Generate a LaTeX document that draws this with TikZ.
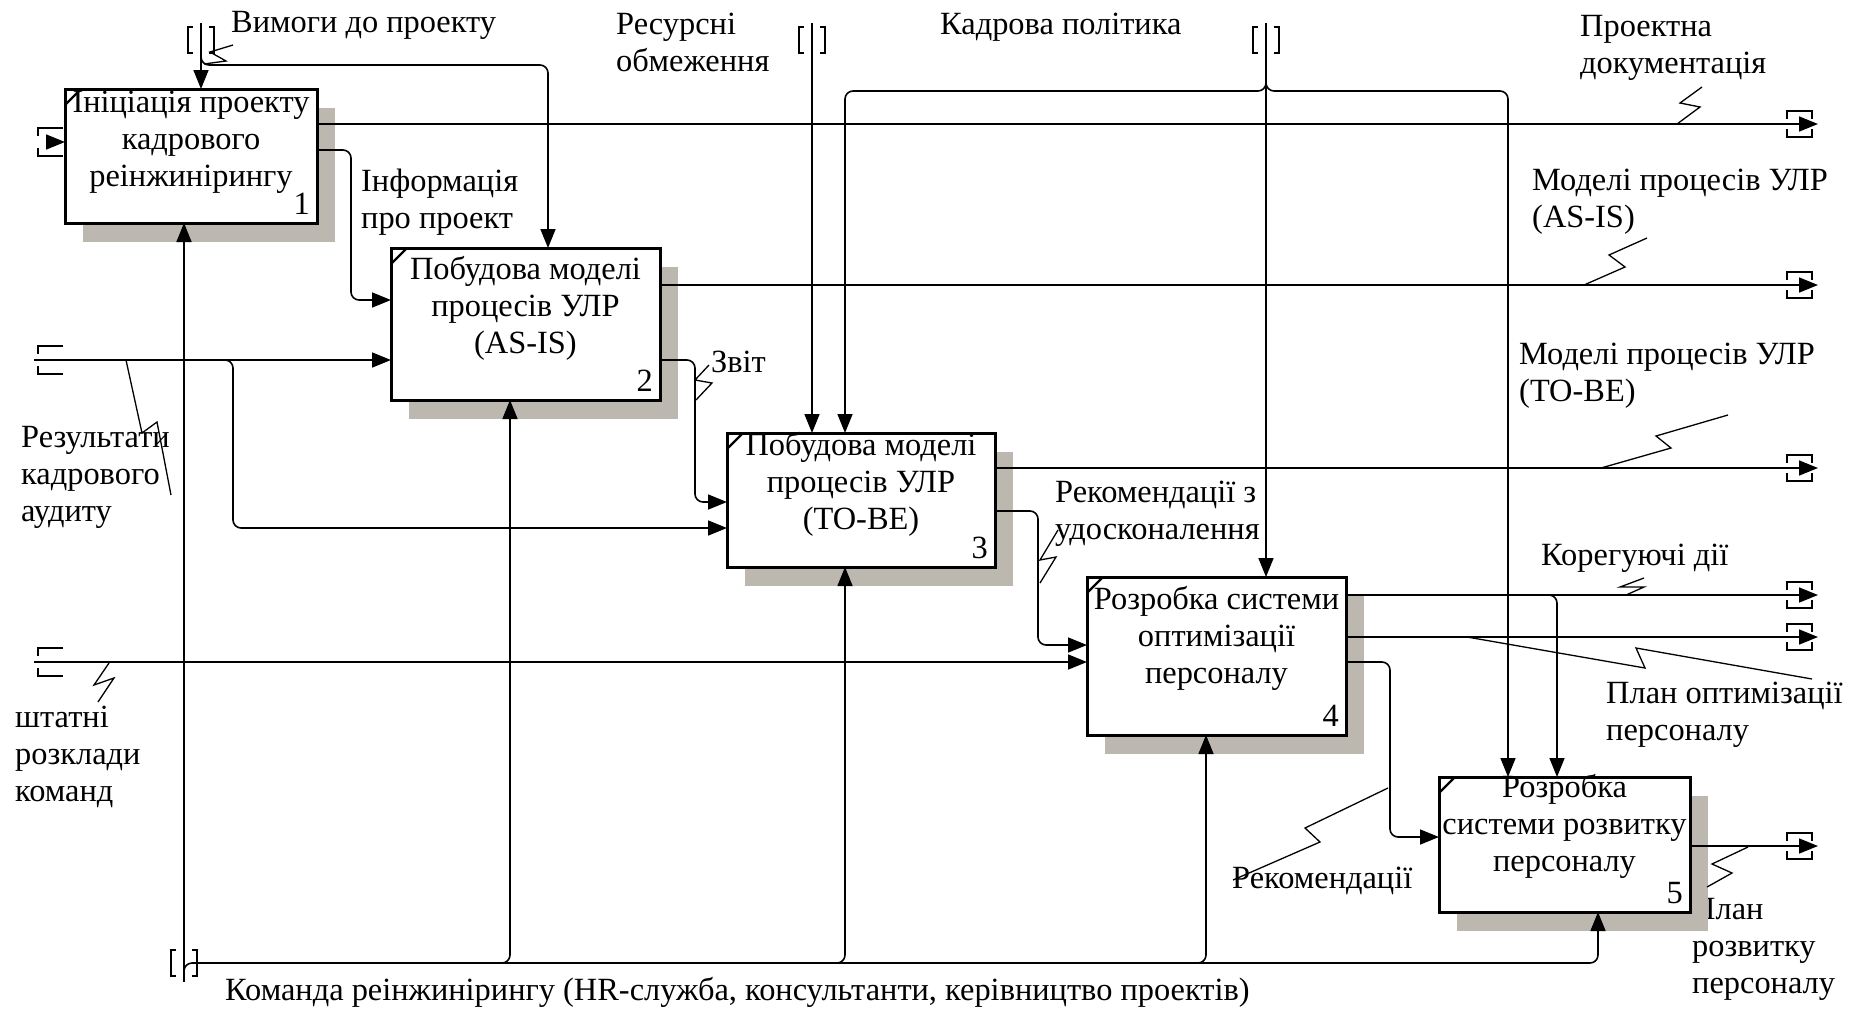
\documentclass[tikz,border=0pt]{standalone}
\usepackage{fontspec}
\setmainfont{Liberation Serif}
\usetikzlibrary{arrows.meta}
\definecolor{shadowgray}{RGB}{188,184,176}
\begin{document}
\begin{tikzpicture}[x=1pt,y=-1pt,
  font=\fontsize{32.4}{37}\selectfont,
  wire/.style={line width=1.6pt},
  flow/.style={wire,-{Triangle[length=19pt,width=15pt]}},
  rnd/.style={rounded corners=8pt},
  lead/.style={line width=1.3pt},
  proc/.style={draw,line width=3pt,fill=white,anchor=north west,inner sep=0pt},
  boxtext/.style={align=center,inner sep=0pt},
  num/.style={anchor=base east,inner sep=0pt},
  lbl/.style={align=left,inner sep=0pt,anchor=west},
  outbrk/.pic={\draw[wire] (-31,-5) -- (-31,-13) -- (-6,-13) -- (-6,-5)
                           (-31,5) -- (-31,13) -- (-6,13) -- (-6,5);},
  inbrk/.pic={\draw[wire] (25,-14) -- (0,-14) -- (0,-6) (0,6) -- (0,14) -- (25,14);},
  tunbrk/.pic={\draw[wire] (-8,-13) -- (-13,-13) -- (-13,13) -- (-8,13)
                           (8,-13) -- (13,-13) -- (13,13) -- (8,13);}
]
\useasboundingbox (0,0) rectangle (1858,1010);

% ---------- arrow labels ----------
\node[lbl] (lReq)   at (231,25)  {Вимоги до проекту};
\node[lbl] (lRes)   at (616,42)  {Ресурсні\\обмеження};
\node[lbl] (lPol)   at (940,27)  {Кадрова політика};
\node[lbl] (lDoc)   at (1580,48) {Проектна\\документація};
\node[lbl] (lInfo)  at (361,202) {Інформація\\про проект};
\node[lbl] (lAsis)  at (1532,202) {Моделі процесів УЛР\\(AS-IS)};
\node[lbl] (lRep)   at (711,362) {Звіт};
\node[lbl] (lTobe)  at (1519,376) {Моделі процесів УЛР\\(TO-BE)};
\node[lbl] (lAud)   at (21,477)  {Результати\\кадрового\\аудиту};
\node[lbl] (lImp)   at (1055,514) {Рекомендації з\\удосконалення};
\node[lbl] (lCor)   at (1541,558) {Корегуючі дії};
\node[lbl] (lOpt)   at (1606,715) {План оптимізації\\персоналу};
\node[lbl] (lStaff) at (15,757)  {штатні\\розклади\\команд};
\node[lbl] (lRec)   at (1232,881) {Рекомендації};
\node[lbl] (lDev)   at (1692,949) {План\\розвитку\\персоналу};
\node[lbl] (lTeam)  at (225,992) {Команда реінжинірингу (HR-служба, консультанти, керівництво проектів)};

% ---------- activity boxes (geometry) ----------
\path (65,89)    node[proc,minimum width=249pt,minimum height=131pt] (b1) {};
\path (391,248)  node[proc,minimum width=266pt,minimum height=149pt] (b2) {};
\path (727,433)  node[proc,minimum width=265pt,minimum height=131pt] (b3) {};
\path (1087,577) node[proc,minimum width=256pt,minimum height=155pt] (b4) {};
\path (1439,777) node[proc,minimum width=248pt,minimum height=132pt] (b5) {};

% drop shadows
\foreach \b in {b1,b2,b3,b4,b5}
  \fill[shadowgray] ([shift={(18,19)}]\b.north west) rectangle ([shift={(18,19)}]\b.south east);

% ---------- port coordinates ----------
\coordinate (in1)  at (47,142);
\coordinate (in2)  at (34,360);
\coordinate (in4)  at (34,662);
\coordinate (c1)   at (201,23);
\coordinate (c3)   at (812,23);
\coordinate (cpol) at (1266,23);
\coordinate (m0)   at (184,982);
\coordinate (o1)   at (1818,124);
\coordinate (o2)   at (1818,285);
\coordinate (o3)   at (1818,468);
\coordinate (o4a)  at (1818,595);
\coordinate (o4b)  at (1818,637);
\coordinate (o5)   at (1818,846);

% ---------- connectors ----------
% inputs from the border
\draw[flow] (in1) -- (in1 -| b1.west);
\draw[flow] (in2) -- (in2 -| b2.west);
\draw[flow,rnd] (222,360) -- (233,360) -- (233,528) -- (b3.west |- 0,528);
\draw[flow] (in4) -- (in4 -| b4.west);

% controls from the border
\draw[flow] (c1) -- (c1 |- b1.north);
\draw[flow,rnd] (201,55) -- (201,65) -- (548,65) -- (548,0 |- b2.north);
\draw[flow] (c3) -- (c3 |- b3.north);
\draw[flow] (cpol) -- (cpol |- b4.north);
\draw[flow,rnd] (1266,80) -- (1266,91) -- (845,91) -- (845,0 |- b3.north);
\draw[flow,rnd] (1266,80) -- (1266,91) -- (1508,91) -- (1508,0 |- b5.north);

% outputs to the border
\draw[flow] (b1.east |- o1) -- (o1);
\draw[flow] (b2.east |- o2) -- (o2);
\draw[flow] (b3.east |- o3) -- (o3);
\draw[flow] (b4.east |- o4a) -- (o4a);
\draw[flow] (b4.east |- o4b) -- (o4b);
\draw[flow] (b5.east |- o5) -- (o5);

% box-to-box links
\draw[flow,rnd] (b1.east |- 0,150) -- (351,150) -- (351,300) -- (b2.west |- 0,300);
\draw[flow,rnd] (b2.east |- 0,360) -- (695,360) -- (695,502) -- (b3.west |- 0,502);
\draw[flow,rnd] (b3.east |- 0,511) -- (1038,511) -- (1038,645) -- (b4.west |- 0,645);
\draw[flow,rnd] (b4.east |- 0,662) -- (1390,662) -- (1390,837) -- (b5.west |- 0,837);
\draw[flow,rnd] (1540,595) -- (1557,595) -- (1557,0 |- b5.north);

% mechanisms
\draw[flow] (m0) -- (m0 |- b1.south);
\draw[flow,rnd] (184,975) -- (184,963) -- (1598,963) -- (1598,0 |- b5.south);
\draw[flow,rnd] (495,963) -- (510,963) -- (510,0 |- b2.south);
\draw[flow,rnd] (830,963) -- (845,963) -- (845,0 |- b3.south);
\draw[flow,rnd] (1191,963) -- (1206,963) -- (1206,0 |- b4.south);

% label leaders
\draw[lead] (233,45) -- (210,52) -- (226,61) -- (204,64);
\draw[lead] (1702,87) -- (1680,103) -- (1700,107) -- (1677,124);
\draw[lead] (1647,238) -- (1609,255) -- (1625,267) -- (1584,285);
\draw[lead] (1728,415) -- (1656,436) -- (1671,448) -- (1601,468);
\draw[lead] (126,360) -- (142,433) -- (157,422) -- (171,495);
\draw[lead] (709,365) -- (695,380) -- (712,383) -- (696,400);
\draw[lead] (1058,530) -- (1040,560) -- (1056,557) -- (1040,583);
\draw[lead] (109,663) -- (94,685) -- (114,678) -- (98,702);
\draw[lead] (1644,578) -- (1620,587) -- (1644,587) -- (1626,595);
\draw[lead] (1467,637) -- (1645,668) -- (1636,648) -- (1812,679);
\draw[lead] (1388,788) -- (1305,828) -- (1320,842) -- (1233,880);
\draw[lead] (1748,847) -- (1712,864) -- (1732,873) -- (1707,887);

% tunnel brackets
\pic at (38,142) {inbrk};
\pic at (38,360) {inbrk};
\pic at (38,662) {inbrk};
\pic at (201,40) {tunbrk};
\pic at (812,40) {tunbrk};
\pic at (1266,40) {tunbrk};
\pic at (184,963) {tunbrk};
\pic at (o1) {outbrk};
\pic at (o2) {outbrk};
\pic at (o3) {outbrk};
\pic at (o4a) {outbrk};
\pic at (o4b) {outbrk};
\pic at (o5) {outbrk};

% ---------- activity boxes (drawn on top) ----------
\foreach \b/\n in {b1/1,b2/2,b3/3,b4/4,b5/5}{
  \draw[line width=3pt,fill=white] (\b.north west) rectangle (\b.south east);
  \draw[line width=2.2pt] ([yshift=-16pt]\b.north west) -- ([xshift=16pt]\b.north west);
  \node[num] (n\n) at ([xshift=-7pt,yshift=9pt]\b.south east) {\n};
}
\node[boxtext] (t1) at ([yshift=14pt]b1.center) {Ініціація проекту\\кадрового\\реінжинірингу};
\node[boxtext] (t2) at ([yshift=16pt]b2.center) {Побудова моделі\\процесів УЛР\\(AS-IS)};
\node[boxtext] (t3) at ([yshift=16pt]b3.center) {Побудова моделі\\процесів УЛР\\(TO-BE)};
\node[boxtext] (t4) at ([yshift=18pt]b4.center) {Розробка системи\\оптимізації\\персоналу};
\node[boxtext] (t5) at ([yshift=18pt]b5.center) {Розробка\\системи розвитку\\персоналу};
\end{tikzpicture}
\end{document}
